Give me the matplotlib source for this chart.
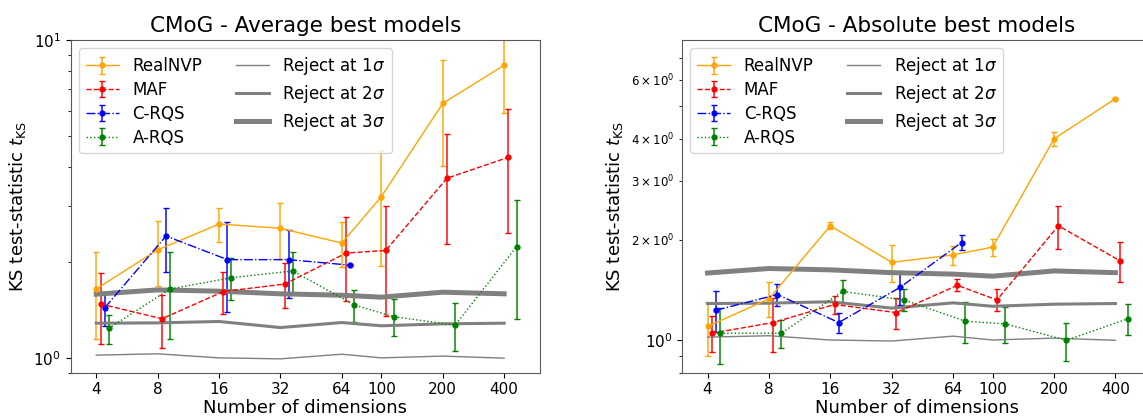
import matplotlib
matplotlib.use("Agg")
import matplotlib.pyplot as plt
from matplotlib.ticker import NullLocator
from matplotlib.lines import Line2D

dims = [4, 8, 16, 32, 64, 100, 200, 400]
dims_crqs = [4, 8, 16, 32, 64]
dim_labels = ["4", "8", "16", "32", "64", "100", "200", "400"]

# Average best models
rnvp_avg = [1.65, 2.19, 2.64, 2.56, 2.30, 3.22, 6.32, 8.34]
rnvp_avg_err = [0.50, 0.51, 0.33, 0.51, 0.37, 1.27, 2.31, 2.43]
maf_avg = [1.48, 1.33, 1.62, 1.71, 2.14, 2.18, 3.68, 4.28]
maf_avg_err = [0.37, 0.25, 0.24, 0.275, 0.63, 0.82, 1.40, 1.80]
crqs_avg = [1.44, 2.42, 2.04, 2.04, 1.96]
crqs_avg_err = [0.18, 0.55, 0.64, 0.49, 0.0]
arqs_avg = [1.24, 1.65, 1.79, 1.88, 1.47, 1.35, 1.27, 2.24]
arqs_avg_err = [0.13, 0.50, 0.27, 0.28, 0.17, 0.18, 0.22, 0.91]

# Absolute best models
rnvp_abs = [1.10, 1.33, 2.20, 1.71, 1.80, 1.90, 4.00, 5.28]
rnvp_abs_err = [0.20, 0.16, 0.055, 0.22, 0.12, 0.11, 0.19, 0.02]
maf_abs = [1.05, 1.13, 1.28, 1.21, 1.46, 1.32, 2.20, 1.73]
maf_abs_err = [0.13, 0.21, 0.08, 0.13, 0.06, 0.10, 0.32, 0.24]
crqs_abs = [1.23, 1.37, 1.13, 1.44, 1.96]
crqs_abs_err = [0.17, 0.10, 0.08, 0.165, 0.10]
arqs_abs = [1.05, 1.05, 1.40, 1.32, 1.14, 1.12, 1.00, 1.16]
arqs_abs_err = [0.20, 0.10, 0.11, 0.10, 0.16, 0.14, 0.13, 0.12]

# Rejection thresholds
reject_1s = [1.022, 1.032, 1.002, 0.995, 1.029, 1.002, 1.015, 1.0]
reject_2s = [1.288, 1.291, 1.304, 1.248, 1.294, 1.264, 1.282, 1.288]
reject_3s = [1.589, 1.639, 1.624, 1.593, 1.577, 1.555, 1.612, 1.593]

names = ["RealNVP", "MAF", "C-RQS", "A-RQS"]
colors = ["orange", "red", "blue", "green"]
styles = ["-", "--", "-.", ":"]

fig = plt.figure(figsize=(11.43, 4.17), dpi=100)
ax1 = fig.add_axes([0.0619, 0.1062, 0.4106, 0.7978])
ax2 = fig.add_axes([0.5967, 0.1062, 0.4106, 0.7978])

panels = [
    (ax1, "CMoG - Average best models",
     [(dims, rnvp_avg, rnvp_avg_err), (dims, maf_avg, maf_avg_err),
      (dims_crqs, crqs_avg, crqs_avg_err), (dims, arqs_avg, arqs_avg_err)],
     (0.9, 10)),
    (ax2, "CMoG - Absolute best models",
     [(dims, rnvp_abs, rnvp_abs_err), (dims, maf_abs, maf_abs_err),
      (dims_crqs, crqs_abs, crqs_abs_err), (dims, arqs_abs, arqs_abs_err)],
     (0.8, 7.9)),
]

for ax, title, series, ylim in panels:
    handles = []
    for i, (xs, ys, es) in enumerate(series):
        xo = [x * (1 + 0.05 * i) for x in xs]
        h = ax.errorbar(xo, ys, yerr=es, color=colors[i], ls=styles[i], lw=1,
                        marker=".", ms=7, capsize=2, elinewidth=1.4,
                        label=names[i])
        for bc in h[2]:
            bc.set_alpha(0.75)
        handles.append(h)
    r1, = ax.plot(dims, reject_1s, color="gray", lw=1, label=r"Reject at 1$\sigma$")
    r2, = ax.plot(dims, reject_2s, color="gray", lw=2.2, label=r"Reject at 2$\sigma$")
    r3, = ax.plot(dims, reject_3s, color="gray", lw=3.6, label=r"Reject at 3$\sigma$")
    handles += [r1, r2, r3]

    ax.set_xscale("log")
    ax.set_yscale("log")
    ax.set_xlim(3, 600)
    ax.set_ylim(*ylim)
    ax.set_xticks(dims)
    ax.set_xticklabels(dim_labels)
    ax.xaxis.set_minor_locator(NullLocator())
    ax.tick_params(axis="both", which="major", labelsize=11)
    ax.tick_params(axis="y", which="minor", labelsize=8.5)
    for sp in ax.spines.values():
        sp.set_color("0.35")
    ax.set_title(title, fontsize=15.5)
    ax.set_xlabel("Number of dimensions", fontsize=13, labelpad=1)
    ax.set_ylabel(r"KS test-statistic $t_{\mathrm{KS}}$", fontsize=13)
    ax.legend(handles=handles, ncol=2, loc="upper left", fontsize=12,
              labelspacing=0.35)

fig.savefig("out.png", dpi=100)
